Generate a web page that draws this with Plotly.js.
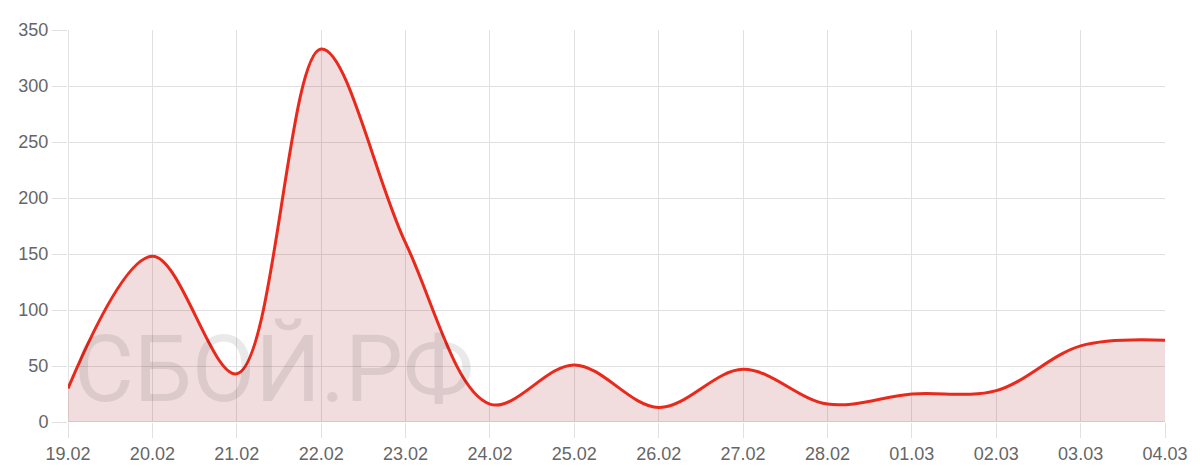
<!DOCTYPE html>
<html>
<head>
<meta charset="utf-8">
<script src="https://cdn.plot.ly/plotly-3.0.1.min.js"></script>
<style>
  html, body { margin: 0; padding: 0; background: #fff; }
  #chart { width: 1200px; height: 471px; }
</style>
</head>
<body>
<div id="chart"></div>
<script>
const dates = ["19.02","20.02","21.02","22.02","23.02","24.02","25.02","26.02","27.02","28.02","01.03","02.03","03.03","04.03"];
const counts = [30, 148, 43, 333, 160, 16, 51, 13, 47, 16, 25, 28, 68, 73];
const yTicks = [0, 50, 100, 150, 200, 250, 300, 350];
const watermark = "СБОЙ.РФ";

const trace = {
  x: dates,
  y: counts,
  type: "scatter",
  mode: "lines",
  line: { color: "#e8291c", width: 3, shape: "spline", smoothing: 1 },
  fill: "tozeroy",
  fillcolor: "rgba(180, 60, 70, 0.18)",
  hoverinfo: "x+y"
};

const gridColor = "#e0e0e0";
const labelFont = { family: "Liberation Sans, Arial, sans-serif", size: 18, color: "#666666" };

const layout = {
  width: 1200,
  height: 471,
  margin: { l: 68, r: 35, t: 30, b: 49 },
  paper_bgcolor: "#ffffff",
  plot_bgcolor: "#ffffff",
  showlegend: false,
  font: labelFont,
  xaxis: {
    type: "category",
    range: [0, dates.length - 1],
    showgrid: true,
    gridcolor: gridColor,
    gridwidth: 1,
    zeroline: false,
    showline: false,
    ticks: "outside",
    ticklen: 15,
    tickcolor: gridColor,
    tickwidth: 1,
    tickfont: labelFont,
    fixedrange: true
  },
  yaxis: {
    range: [0, 350],
    tickvals: yTicks,
    showgrid: true,
    gridcolor: gridColor,
    gridwidth: 1,
    zeroline: false,
    showline: false,
    ticks: "outside",
    ticklen: 15,
    tickcolor: gridColor,
    tickwidth: 1,
    tickfont: labelFont,
    fixedrange: true
  },
  shapes: [
    { type: "line", xref: "paper", yref: "y", x0: 0, x1: 1, y0: 0, y1: 0, line: { color: "#c8c8c8", width: 1 }, layer: "below" },
    { type: "line", xref: "x", yref: "paper", x0: 0, x1: 0, y0: 0, y1: 1, line: { color: "#c8c8c8", width: 1 }, layer: "below" }
  ],
  annotations: [
    {
      text: watermark,
      xref: "paper", yref: "paper",
      x: 0.004, y: -0.008,
      xanchor: "left", yanchor: "bottom",
      showarrow: false,
      font: { family: "Roboto, sans-serif", size: 92, color: "rgba(0,0,0,0.085)" }
    }
  ]
};

Plotly.newPlot("chart", [trace], layout, { displayModeBar: false, staticPlot: true });
</script>
</body>
</html>
